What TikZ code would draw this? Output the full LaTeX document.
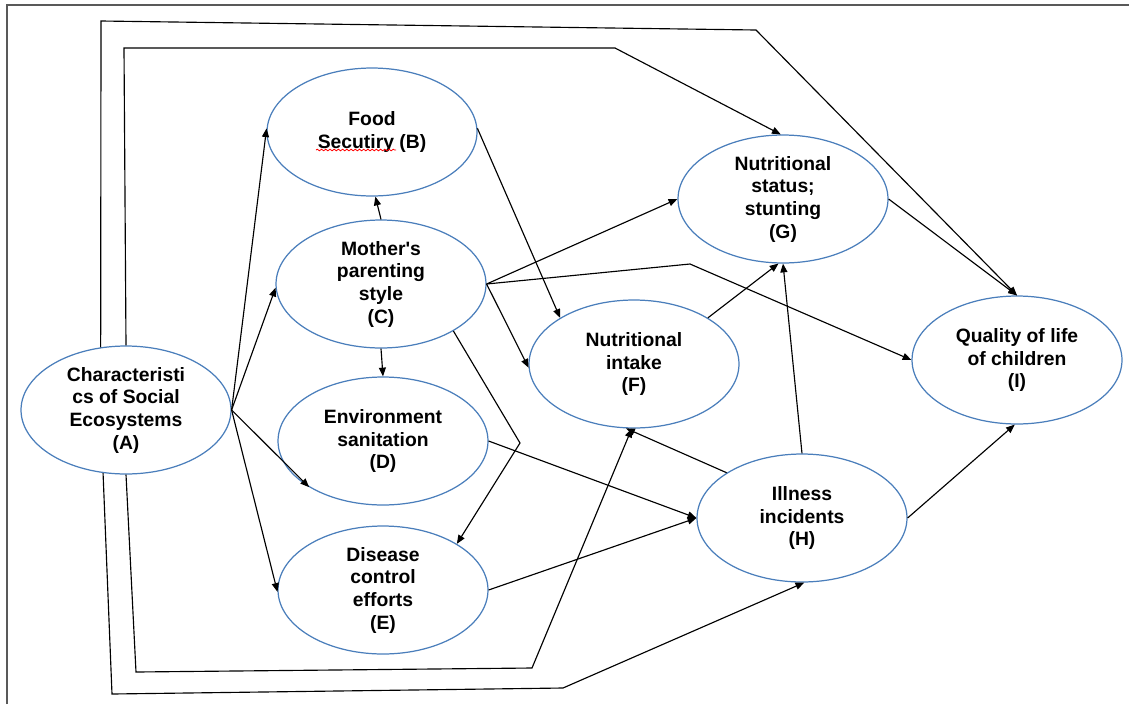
\documentclass[tikz,border=0pt]{standalone}
\usepackage{fontspec}
\setmainfont{Liberation Sans}
\usetikzlibrary{shapes.geometric,arrows.meta,decorations.pathmorphing}
\definecolor{ovalblue}{RGB}{74,126,187}

\begin{document}
\begin{tikzpicture}[x=0.02cm, y=-0.02cm,
     every node/.style={font=\fontsize{11}{12.9}\selectfont\bfseries, align=center},
     factor/.style={ellipse, draw=ovalblue, line width=0.7pt, minimum width=4.2cm, minimum height=2.56cm, inner sep=-4mm},
     link/.style={draw, line width=0.65pt, -{Triangle[length=5pt,width=4pt]}},
     spell/.style={draw=red, line width=0.45pt, decorate, decoration={snake, amplitude=0.45pt, segment length=2.4pt}}]

   \useasboundingbox (0,0) rectangle (1129,704);
   \draw[gray!70!black, line width=1.1pt] (7,704) -- (7,5) -- (1129,5);

   % factors
   \node[factor] (A) at (126,410) {Characteristi\\cs of Social\\Ecosystems\\(A)};
   \node[factor] (B) at (372,132) {Food\\Secutiry (B)};
   \node[factor] (C) at (381,284) {Mother\textquotesingle s\\parenting\\style\\(C)};
   \node[factor] (D) at (383,441) {Environment\\sanitation\\(D)};
   \node[factor] (E) at (383,590) {Disease\\control\\efforts\\(E)};
   \node[factor] (F) at (634,364) {Nutritional\\intake\\(F)};
   \node[factor] (G) at (783,199) {Nutritional\\status;\\stunting\\(G)};
   \node[factor] (H) at (802,518) {Illness\\incidents\\(H)};
   \node[factor] (I) at (1017,360) {Quality of life\\of children\\(I)};
   \draw[spell] ([shift={(-56,18)}]B.center) -- ([shift={(24,18)}]B.center);

   % bends
   \coordinate (a1) at (101,21);  \coordinate (a2) at (756,30);
   \coordinate (b1) at (124,48);  \coordinate (b2) at (615,48);
   \coordinate (c1) at (136,672); \coordinate (c2) at (532,668);
   \coordinate (d1) at (112,694); \coordinate (d2) at (563,688);
   \coordinate (cI) at (690,264); \coordinate (cE) at (520,443);

   % paths
   \path[link] (A.east) -- (B.178);
   \path[link] (A.east) -- (C.182);
   \path[link] (A.east) -- (D.212);
   \path[link] (A.east) -- (E.181);
   \path[link] (C.north) -- (B.273);
   \path[link] (C.south) -- (D.north);
   \path[link] (B.2) -- (F.148);
   \path[link] (C.east) -- (F.182);
   \path[link] (C.east) -- (G.180);
   \path[link] (C.east) -- (cI) -- (I.west);
   \path[link] (C.327) -- (cE) -- (E.32);
   \path[link] (D.east) -- (H.west);
   \path[link] (E.east) -- (H.west);
   \path[link] (F.32) -- (G.266);
   \path[link] (H.north) -- (G.south);
   \path[link] (H.149) -- (F.263);
   \path[link] (H.east) -- (I.268);
   \path[link] (G.east) -- (I.north);
   \path[link] (A.112) -- (a1) -- (a2) -- (I.north);
   \path[link] (A.north) -- (b1) -- (b2) -- (G.92);
   \path[link] (A.south) -- (c1) -- (c2) -- (F.268);
   \path[link] (A.250) -- (d1) -- (d2) -- (H.272);
\end{tikzpicture}
\end{document}
